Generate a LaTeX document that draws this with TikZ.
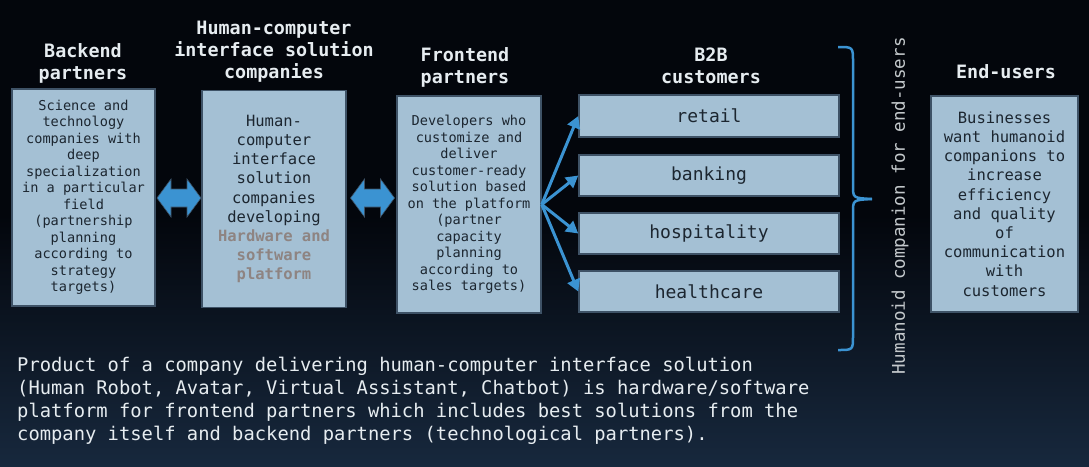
\documentclass[tikz,border=0pt]{standalone}
\usepackage{fontspec}
\setmonofont{DejaVu Sans Mono}
\usetikzlibrary{arrows.meta}
\definecolor{bg}{HTML}{03060C}
\definecolor{bgb}{HTML}{17283D}
\definecolor{boxfill}{HTML}{A4C0D4}
\definecolor{boxline}{HTML}{3E5266}
\definecolor{arr}{HTML}{3B93D2}
\definecolor{txt}{HTML}{1C2630}
\definecolor{hw}{HTML}{8E8482}
\definecolor{head}{HTML}{E6ECF0}
\begin{document}
\begin{tikzpicture}[x=1pt,y=-1pt,
  box/.style={draw=boxline,line width=1.5pt,fill=boxfill,inner sep=0pt,align=center,text=txt},
  smalltxt/.style={font=\ttfamily\fontsize{13.6}{16.5}\selectfont},
  midtxt/.style={font=\ttfamily\fontsize{15.5}{19.2}\selectfont},
  bigtxt/.style={font=\ttfamily\fontsize{18}{22}\selectfont},
  hdr/.style={align=center,text=head,font=\ttfamily\bfseries\fontsize{18.4}{22}\selectfont},
  conn/.style={draw=arr,line width=3pt,-{Triangle[length=12pt,width=13pt]}},
  dbl/.style={fill=arr,draw=boxline,line width=0.6pt,line join=miter},
  pics/dblarrow/.style={code={
    \filldraw[dbl] (-22,0) -- (-8,-19) -- (-8,-9) -- (8,-9) -- (8,-19) -- (22,0) -- (8,19) -- (8,9) -- (-8,9) -- (-8,19) -- cycle;}}
]
\fill[bg] (0,0) rectangle (1089,466);
\shade[top color=bg,bottom color=bgb] (0,215) rectangle (1089,466);
\useasboundingbox (0,0) rectangle (1089,466);

% headers
\node[hdr] (hb) at (83,63) {Backend\\partners};
\node[hdr] (hh) at (274,52) {Human-computer\\interface solution\\companies};
\node[hdr] (hf) at (465,67) {Frontend\\partners};
\node[hdr] (hc) at (711,66) {B2B\\customers};
\node[hdr] (he) at (1006,72) {End-users};

% boxes
\node[box,smalltxt,minimum width=143pt,minimum height=217pt] (back) at (83.5,197.5)
 {Science and\\technology\\companies with\\deep\\specialization\\in a particular\\field\\(partnership\\planning\\according to\\strategy\\targets)};
\node[box,midtxt,minimum width=144pt,minimum height=217pt] (hci) at (274,199)
 {Human-\\computer\\interface\\solution\\companies\\developing\\{\color{hw}\bfseries Hardware and}\\{\color{hw}\bfseries software}\\{\color{hw}\bfseries platform}};
\node[box,smalltxt,minimum width=144pt,minimum height=217pt] (front) at (469,204.5)
 {Developers who\\customize and\\deliver\\customer-ready\\solution based\\on the platform\\(partner\\capacity\\planning\\according to\\sales targets)};
\node[box,bigtxt,minimum width=260pt,minimum height=42pt] (retail) at (709,116) {retail};
\node[box,bigtxt,minimum width=260pt,minimum height=41pt] (bank) at (709,175.5) {banking};
\node[box,bigtxt,minimum width=260pt,minimum height=41pt] (hosp) at (709,233.5) {hospitality};
\node[box,bigtxt,minimum width=260pt,minimum height=41pt] (health) at (709,291.5) {healthcare};
\node[box,midtxt,minimum width=147pt,minimum height=216pt] (end) at (1004.5,204)
 {Businesses\\want humanoid\\companions to\\increase\\efficiency\\and quality\\of\\communication\\with\\customers};

% double arrows
\pic (d1) at (179,198) {dblarrow};
\pic (d2) at (372.5,198) {dblarrow};

% connectors
\draw[conn] (front.east) -- (retail.west);
\draw[conn] (front.east) -- (bank.west);
\draw[conn] (front.east) -- (hosp.west);
\draw[conn] (front.east) -- (health.west);

% brace
\draw[arr,line width=2.5pt] (838,47) .. controls (853,47) .. (853,62) -- (853,186) .. controls (853,198) .. (872,199);
\draw[arr,line width=2.5pt] (872,199) .. controls (853,200) .. (853,212) -- (853,336) .. controls (853,350) .. (838,350);

% vertical label
\node[rotate=90,text=head!85!black,font=\ttfamily\fontsize{17.5}{20}\selectfont] (vl) at (900,206) {Humanoid companion for end-users};

% bottom text
\node[anchor=north west,align=left,text=head,inner sep=0pt,font=\ttfamily\fontsize{18.8}{23}\selectfont] (bt) at (17,357)
 {Product of a company delivering human-computer interface solution\\(Human Robot, Avatar, Virtual Assistant, Chatbot) is hardware/software\\platform for frontend partners which includes best solutions from the\\company itself and backend partners (technological partners).};
\end{tikzpicture}
\end{document}
